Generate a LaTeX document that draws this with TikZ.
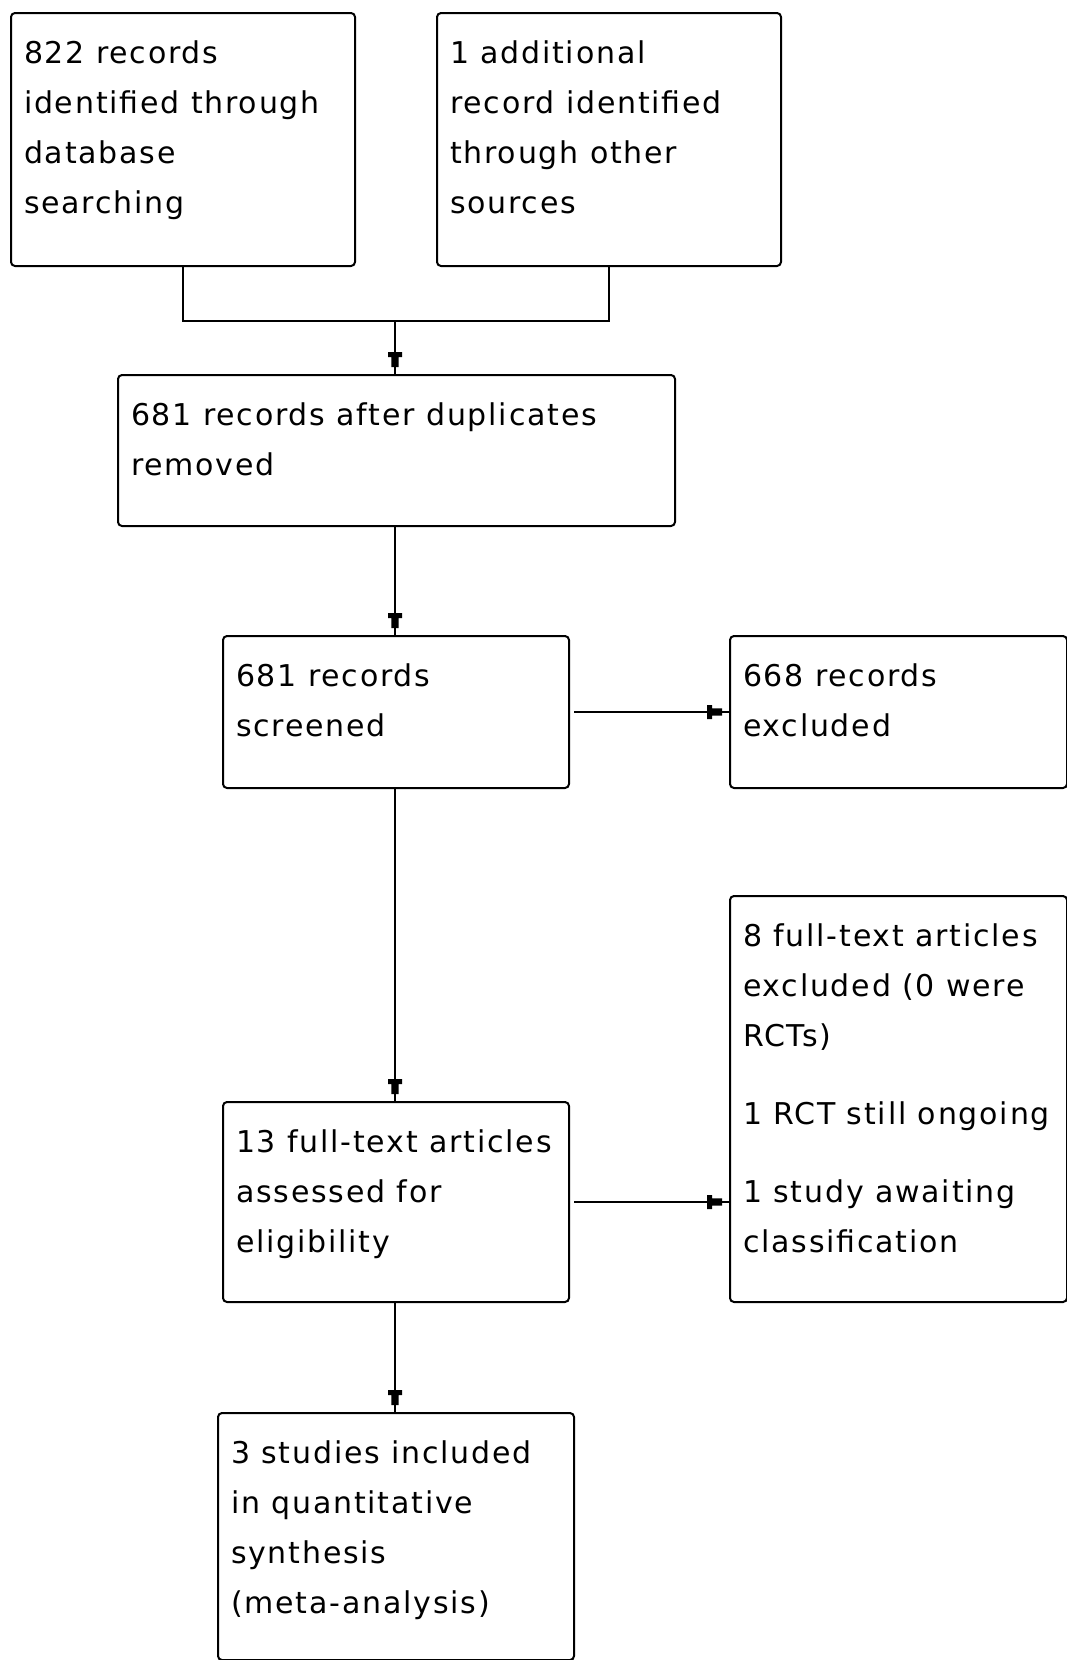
\documentclass[tikz,border=0pt]{standalone}
\usepackage{fontspec}
\usetikzlibrary{decorations.markings}
\newfontfamily\flowfont{DejaVu Sans}[LetterSpace=6]

% top-aligned text block of a box: width, height, lines
\newcommand{\flowtext}[3]{\parbox[t][#2][t]{#1}{\flowfont\fontsize{30pt}{50pt}\selectfont
  \raggedright\setlength{\parskip}{28pt}\hfuzz=40pt\rule{0pt}{50pt}#3}}

\tikzset{
  flowbox/.style={draw, line width=2pt, rounded corners=4pt, anchor=north west,
    inner xsep=13pt, inner ysep=0pt},
  flowline/.style={line width=2pt},
  headed/.style={flowline, postaction={decorate}, decoration={markings,
    mark=at position -7pt with {\fill (0pt,-3.7pt) -- (-10pt,-3.7pt) -- (-10pt,-7pt)
      -- (-15pt,-7pt) -- (-15pt,7pt) -- (-10pt,7pt) -- (-10pt,3.7pt) -- (0pt,3.7pt) -- cycle;}}},
}

\begin{document}
\begin{tikzpicture}[x=1pt,y=-1pt]
\fill[white] (0,0) rectangle (1067,1660);
\useasboundingbox (0,0) rectangle (1067,1660);

% boxes
\node[flowbox] (dbrec) at (10,12) {\flowtext{318pt}{253pt}{822 records\\identified through\\database\\searching}};
\node[flowbox] (otherrec) at (436,12) {\flowtext{318pt}{253pt}{1 additional\\record identified\\through other\\sources}};
\node[flowbox] (dedup) at (117,374) {\flowtext{531pt}{151pt}{681 records after duplicates\\removed}};
\node[flowbox] (screened) at (222,635) {\flowtext{320pt}{152pt}{681 records\\screened}};
\node[flowbox] (excluded) at (729,635) {\flowtext{311pt}{152pt}{668 records\\excluded}};
\node[flowbox] (ftexcl) at (729,895) {\flowtext{311pt}{406pt}{8 full-text articles\\excluded (0 were\\RCTs)\par
  \mbox{1 RCT still ongoing}\par
  1 study awaiting\\classification}};
\node[flowbox] (fulltext) at (222,1101) {\flowtext{320pt}{200pt}{13 full-text articles\\assessed for\\eligibility}};
\node[flowbox] (included) at (217,1412) {\flowtext{330pt}{247pt}{3 studies included\\in quantitative\\synthesis\\(meta-analysis)}};

% connectors
\coordinate (merge) at (395,321);
\draw[flowline] (dbrec.south) |- (merge) -| (otherrec.south);
\draw[headed] (merge) -- (dedup.north -| merge);
\draw[headed] (dedup.south -| merge) -- (screened.north -| merge);
\draw[headed, shorten <=4pt] (screened.east) -- (excluded.west);
\draw[headed] (screened.south -| merge) -- (fulltext.north -| merge);
\draw[headed, shorten <=4pt] (fulltext.east) -- (fulltext.east -| ftexcl.west);
\draw[headed] (fulltext.south -| merge) -- (included.north -| merge);
\end{tikzpicture}
\end{document}
